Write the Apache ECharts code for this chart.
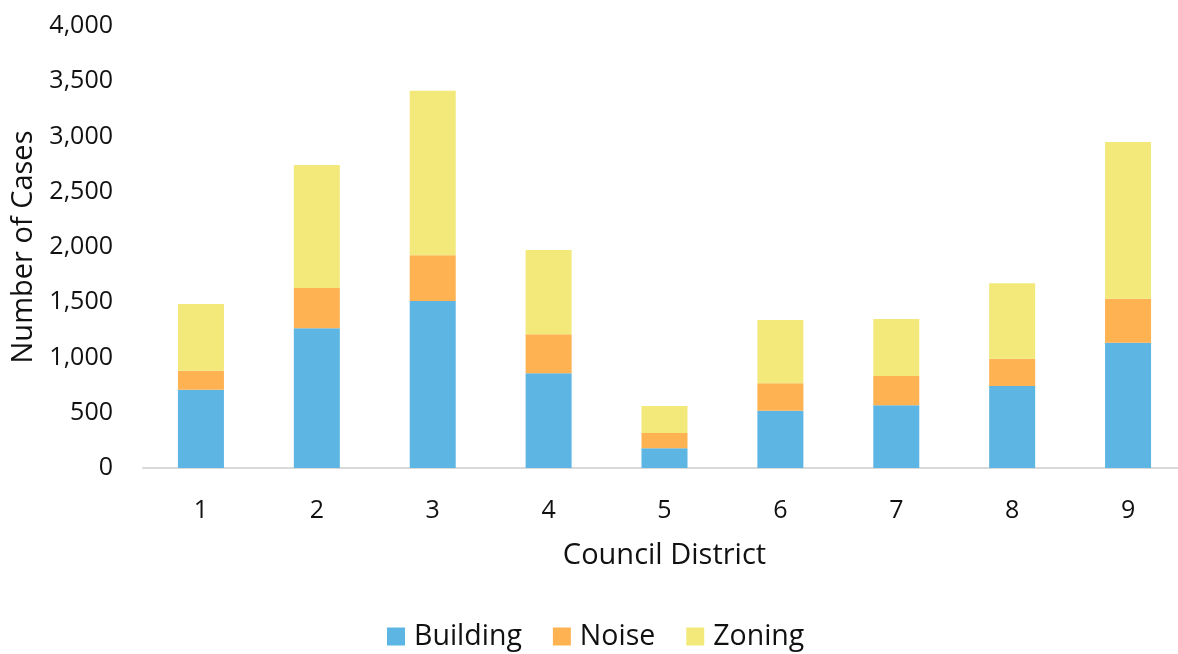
<!DOCTYPE html>
<html>
<head>
<meta charset="utf-8">
<script src="https://cdn.jsdelivr.net/npm/echarts@6/dist/echarts.min.js"></script>
<style>
    html, body { margin: 0; padding: 0; background: #fff; }
    #chart { width: 1178px; height: 654px; }
</style>
</head>
<body>
<div id="chart"></div>
<script>
// council districts on the x axis
const districts = ['1', '2', '3', '4', '5', '6', '7', '8', '9'];

// cases by type, stacked
const building = [709, 1264, 1511, 857, 178, 519, 567, 742, 1134];
const noise = [172, 365, 414, 353, 139, 248, 266, 247, 398];
const zoning = [603, 1113, 1489, 763, 244, 572, 515, 682, 1418];

const chart = echarts.init(document.getElementById('chart'));
const font = "'Open Sans', 'Noto Sans', sans-serif";
const ink = '#111';

function barSeries(name, data, color) {
    return {
        name: name,
        type: 'bar',
        stack: 'cases',
        barWidth: 46,
        itemStyle: { color: color },
        data: data
    };
}

chart.setOption({
    animation: false,
    textStyle: { fontFamily: font },
    grid: {
        left: 143,
        top: 26,
        width: 1043,
        bottom: 186,
        containLabel: false,
        outerBoundsMode: 'none'
    },
    legend: {
        left: 387,
        top: 622,
        padding: 0,
        itemWidth: 18,
        itemHeight: 18,
        itemGap: 31,
        icon: 'rect',
        textStyle: { fontSize: 28.5, color: ink, fontFamily: font, padding: [0, 0, 0, 4] },
        data: ['Building', 'Noise', 'Zoning']
    },
    xAxis: {
        type: 'category',
        data: districts,
        name: 'Council District',
        nameLocation: 'middle',
        nameGap: 73,
        nameTextStyle: { fontSize: 29, color: ink, fontFamily: font },
        axisLine: { lineStyle: { color: '#d9d9d9', width: 2 } },
        axisTick: { show: false },
        axisLabel: { fontSize: 25, color: ink, margin: 30, fontFamily: font }
    },
    yAxis: {
        type: 'value',
        min: 0,
        max: 4000,
        interval: 500,
        name: 'Number of Cases',
        nameLocation: 'middle',
        nameGap: 104,
        nameTextStyle: { fontSize: 29, color: ink, fontFamily: font },
        axisLine: { show: false },
        axisTick: { show: false },
        splitLine: { show: false },
        axisLabel: {
            fontSize: 25,
            color: ink,
            margin: 30,
            fontFamily: font,
            formatter: function (v) {
                return v.toLocaleString('en-US');
            }
        }
    },
    series: [
        barSeries('Building', building, '#5db5e3'),
        barSeries('Noise', noise, '#ffb252'),
        barSeries('Zoning', zoning, '#f2e97a')
    ]
});
</script>
</body>
</html>
